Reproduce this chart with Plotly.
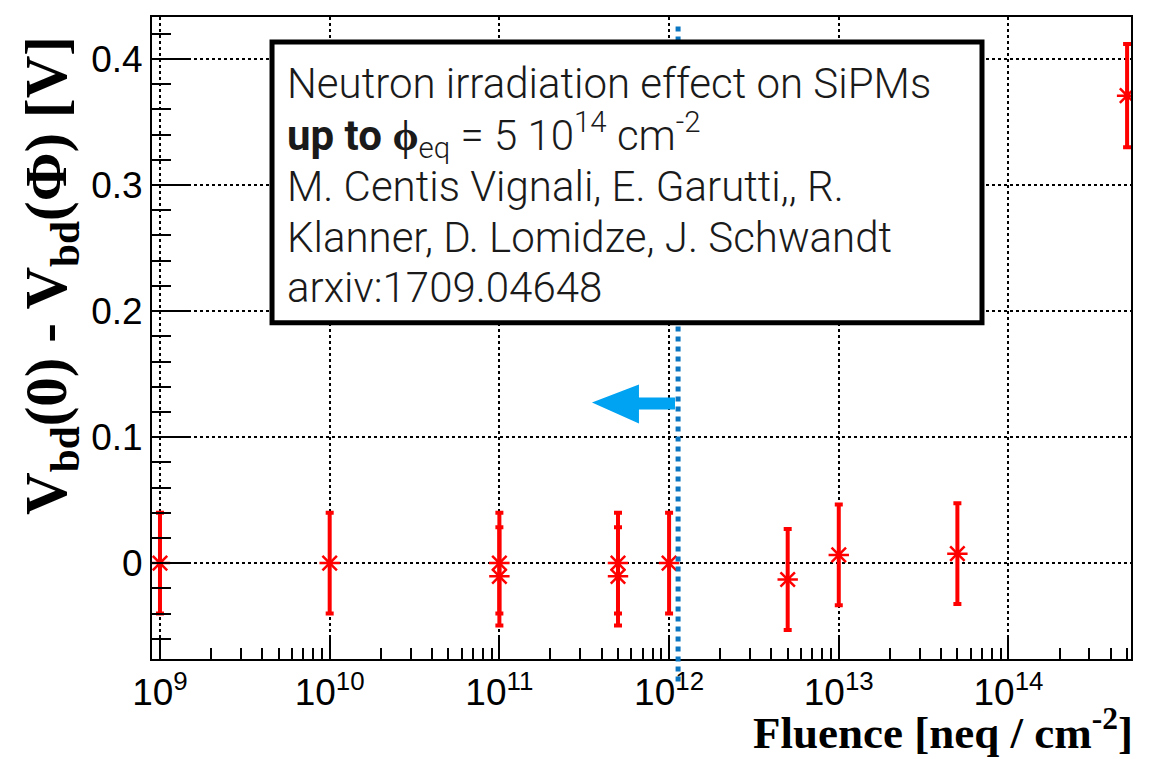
import plotly.graph_objects as go

# ---- data ----
fluence = [1e9, 1e10, 1e11, 1e11, 5e11, 5e11, 1e12, 5e12, 1e13, 5e13, 5e14]
delta_vbd = [0.0, 0.0, 0.0, -0.0105, 0.0, -0.0105, 0.0, -0.013, 0.0065, 0.0075, 0.371]
err_vbd = [0.04, 0.04, 0.04, 0.039, 0.04, 0.039, 0.04, 0.04, 0.04, 0.04, 0.041]
x_tick_vals = [1e9, 1e10, 1e11, 1e12, 1e13, 1e14]
x_tick_text = ["10<sup>9</sup>", "10<sup>10</sup>", "10<sup>11</sup>",
               "10<sup>12</sup>", "10<sup>13</sup>", "10<sup>14</sup>"]
y_tick_vals = [0.0, 0.1, 0.2, 0.3, 0.4]
y_tick_text = ["0", "0.1", "0.2", "0.3", "0.4"]
limit_fluence = 1.13e12

text_lines = [
    "Neutron irradiation effect on SiPMs",
    "<b>up to ϕ</b><sub>eq</sub> = 5 10<sup>14</sup> cm<sup>-2</sup>",
    "M. Centis Vignali, E. Garutti,, R.",
    "Klanner, D. Lomidze, J. Schwandt",
    "arxiv:1709.04648",
]
text_y = [0.896, 0.816, 0.736, 0.657, 0.578]

fig = go.Figure()

fig.add_trace(go.Scatter(
    x=fluence, y=delta_vbd, mode="markers",
    marker=dict(symbol="asterisk-open", size=17, color="#ff0000",
                line=dict(color="#ff0000", width=2.5)),
    error_y=dict(type="data", array=err_vbd, visible=True,
                 color="#ff0000", thickness=4, width=4),
    showlegend=False,
))

# vertical blue dotted line
fig.add_shape(type="line", xref="x", yref="paper",
              x0=limit_fluence, x1=limit_fluence, y0=-0.035, y1=0.992,
              line=dict(color="#0a76c2", width=5, dash="dot"), layer="above")

# arrow
fig.add_shape(type="path", xref="paper", yref="paper",
              path="M 0.4494,0.3995 L 0.4974,0.4275 L 0.4974,0.4073 L 0.5342,0.4073 "
                   "L 0.5342,0.3887 L 0.4974,0.3887 L 0.4974,0.3670 Z",
              fillcolor="#00a2f2", line=dict(width=0), layer="above")

# text box
fig.add_shape(type="rect", xref="paper", yref="paper",
              x0=0.1226, x1=0.8478, y0=0.5237, y1=0.9612,
              fillcolor="white", line=dict(color="black", width=5), layer="above")

for t, yy in zip(text_lines, text_y):
    fig.add_annotation(text=t, xref="paper", yref="paper", x=0.1359, y=yy,
                       xanchor="left", yanchor="middle", showarrow=False,
                       font=dict(family="Roboto", size=42, color="#1a1a1a", weight=300))

# axis titles
fig.add_annotation(text="<b>V<sub>bd</sub>(0) - V<sub>bd</sub>(Φ) [V]</b>",
                   xref="paper", yref="paper", x=-0.104, y=0.597,
                   textangle=-90, showarrow=False, xanchor="center", yanchor="middle",
                   font=dict(family="Liberation Serif", size=59, color="black"))
fig.add_annotation(text="<b>Fluence [neq / cm<sup>-2</sup>]</b>",
                   xref="paper", yref="paper", x=1.004, y=-0.110,
                   showarrow=False, xanchor="right", yanchor="middle",
                   font=dict(family="Liberation Serif", size=45, color="black"))

fig.update_xaxes(
    type="log", range=[8.953, 14.722],
    tickvals=x_tick_vals, ticktext=x_tick_text,
    tickfont=dict(family="Liberation Sans", size=37, color="black"),
    ticks="inside", ticklen=21, tickwidth=2, tickcolor="black",
    showline=True, mirror=True, linecolor="black", linewidth=2,
    showgrid=True, gridcolor="black", gridwidth=2, griddash="dot",
    minor=dict(ticks="inside", ticklen=11, tickwidth=2, tickcolor="black",
               dtick="D1", showgrid=False),
    zeroline=False,
)
fig.update_yaxes(
    range=[-0.0761, 0.4334],
    tickvals=y_tick_vals, ticktext=y_tick_text,
    tickfont=dict(family="Liberation Sans", size=37, color="black"),
    ticks="inside", ticklen=39, tickwidth=2, tickcolor="black",
    showline=True, mirror=True, linecolor="black", linewidth=2,
    showgrid=True, gridcolor="black", gridwidth=2, griddash="dot",
    minor=dict(ticks="inside", ticklen=19, tickwidth=2, tickcolor="black",
               dtick=0.02, tick0=0, showgrid=False),
    zeroline=False,
)

fig.update_layout(
    width=1141, height=751,
    margin=dict(l=144, r=18, t=7, b=100),
    paper_bgcolor="white", plot_bgcolor="white",
    showlegend=False,
)

fig.write_html("out.html")
